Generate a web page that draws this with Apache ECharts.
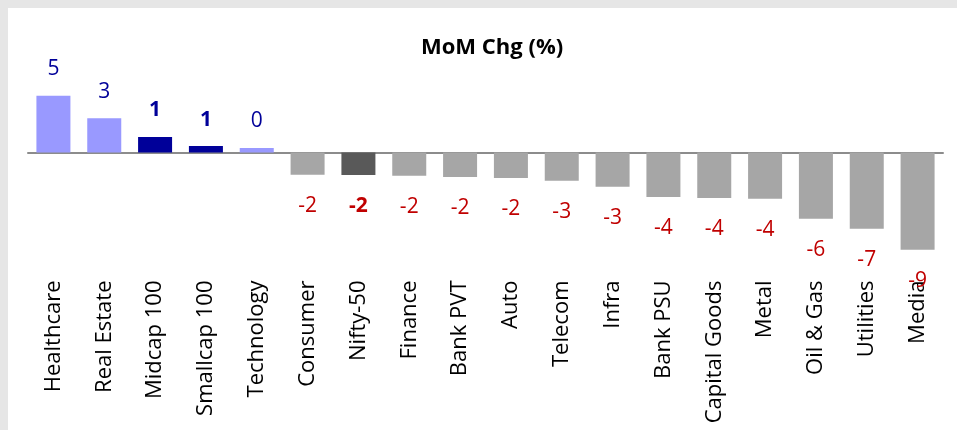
<!DOCTYPE html>
<html>
<head>
<meta charset="utf-8">
<script src="https://cdn.jsdelivr.net/npm/echarts@6/dist/echarts.min.js"></script>
<style>
  html, body { margin: 0; padding: 0; background: #e6e6e6; }
  #chart {
    position: absolute;
    left: 8px;
    top: 8px;
    width: 949px;
    height: 422px;
    background: #fff;
  }
</style>
</head>
<body>
<div id="chart"></div>
<script>
const categories = ['Healthcare', 'Real Estate', 'Midcap 100', 'Smallcap 100', 'Technology', 'Consumer',
  'Nifty-50', 'Finance', 'Bank PVT', 'Auto', 'Telecom', 'Infra', 'Bank PSU', 'Capital Goods', 'Metal',
  'Oil & Gas', 'Utilities', 'Media']
const momChange = [5.3, 3.2, 1.45, 0.6, 0.42, -2.07, -2.1, -2.17, -2.29, -2.38, -2.64, -3.2, -4.16, -4.25,
  -4.32, -6.19, -7.12, -9.1]

// index groups get their own colour
const darkBars = ['Midcap 100', 'Smallcap 100']
const benchmark = 'Nifty-50'

const FONT = '"Open Sans", "Noto Sans", sans-serif'

const chart = echarts.init(document.getElementById('chart'), null, { renderer: 'canvas' })

const barData = momChange.map((v, i) => {
  const name = categories[i]
  const positive = v >= 0
  let color = positive ? '#9999ff' : '#a6a6a6'
  if (darkBars.includes(name)) color = '#000099'
  if (name === benchmark) color = '#595959'
  const bold = darkBars.includes(name) || name === benchmark
  return {
    value: v,
    itemStyle: { color },
    label: {
      position: positive ? 'top' : 'bottom',
      distance: positive ? 16 : 21,
      color: positive ? '#000099' : '#c00000',
      fontWeight: bold ? 'bold' : 'normal'
    }
  }
})

chart.setOption({
  animation: false,
  backgroundColor: '#fff',
  title: {
    text: 'MoM Chg (%)',
    left: 408,
    top: 24,
    textStyle: {
      fontFamily: FONT,
      fontSize: 22,
      fontWeight: 'bold',
      color: '#000'
    }
  },
  grid: {
    left: 20,
    right: 14,
    top: 80.3,
    bottom: 170.5,
    containLabel: false
  },
  xAxis: [
    {
      type: 'category',
      data: categories,
      position: 'bottom',
      axisLine: { show: false, onZero: false },
      axisTick: { show: false },
      axisLabel: {
        rotate: 90,
        margin: 21,
        interval: 0,
        color: '#000',
        fontFamily: FONT,
        fontSize: 22
      }
    },
    {
      type: 'category',
      data: categories,
      position: 'top',
      axisLine: { show: true, onZero: true, lineStyle: { color: '#8c8c8c', width: 2 } },
      axisTick: { show: false },
      axisLabel: { show: false }
    }
  ],
  yAxis: {
    type: 'value',
    min: -10,
    max: 6,
    show: false,
    splitLine: { show: false }
  },
  series: [
    {
      type: 'bar',
      xAxisIndex: 0,
      barWidth: 34,
      data: barData,
      label: {
        show: true,
        fontFamily: FONT,
        fontSize: 21,
        formatter: p => String(Math.round(p.value))
      }
    }
  ]
})
</script>
</body>
</html>
